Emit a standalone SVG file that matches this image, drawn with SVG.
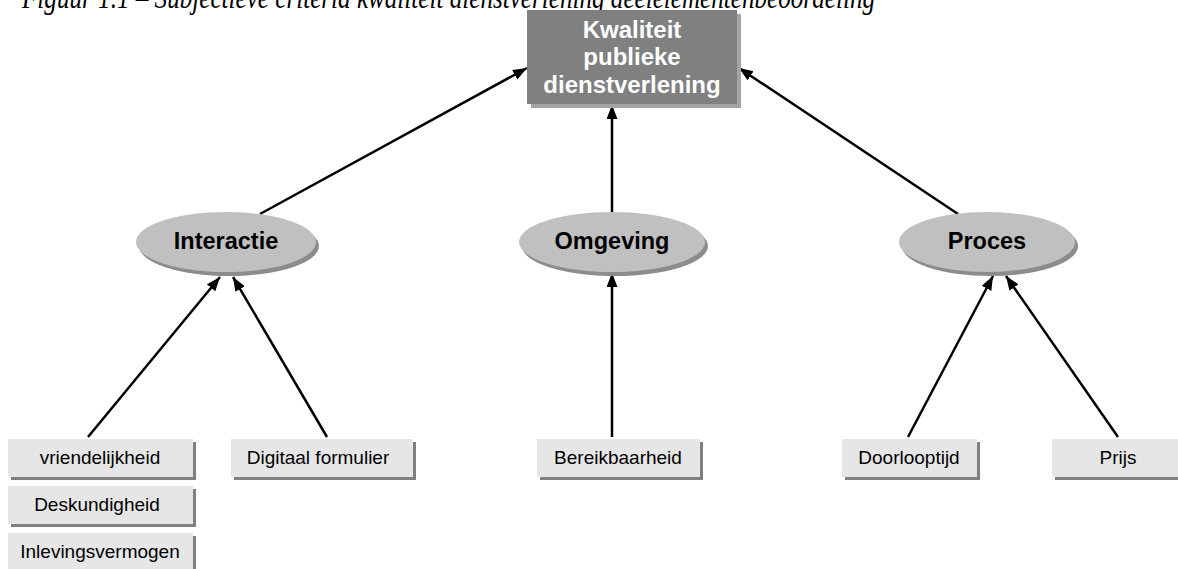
<svg xmlns="http://www.w3.org/2000/svg" width="1178" height="569" viewBox="0 0 1178 569">
  <style>
    .title { font-family: "Liberation Serif", "DejaVu Serif", serif; font-style: italic; font-size: 32px; fill: #000; }
    .toptext { font-family: "Liberation Sans", Arial, sans-serif; font-weight: bold; font-size: 24px; fill: #fff; text-anchor: middle; }
    .elltext { font-family: "Liberation Sans", Arial, sans-serif; font-weight: bold; font-size: 23.5px; fill: #000; text-anchor: middle; }
    .boxtext { font-family: "Liberation Sans", Arial, sans-serif; font-size: 19px; fill: #000; text-anchor: middle; }
    .box { fill: #e6e6e6; }
    .boxshadow { fill: #808080; }
    .ell { fill: #c0c0c0; }
    .ellshadow { fill: #8c8c8c; }
    .conn { stroke: #000; stroke-width: 2.5; fill: none; marker-end: url(#arrow); }
  </style>
  <defs>
    <marker id="arrow" markerUnits="userSpaceOnUse" markerWidth="15" markerHeight="12" refX="14" refY="5.5" orient="auto">
      <path d="M0,0 L14,5.5 L0,11 z" fill="#000"/>
    </marker>
  </defs>
  <rect width="1178" height="569" fill="#fff"/>

  <text class="title" x="22" y="8" textLength="853" lengthAdjust="spacingAndGlyphs">Figuur 1.1 – Subjectieve criteria kwaliteit dienstverlening deelelementenbeoordeling</text>

  <g id="connectors">
    <line class="conn" x1="260" y1="214" x2="527" y2="68"/>
    <line class="conn" x1="612" y1="212" x2="612" y2="105"/>
    <line class="conn" x1="958" y1="214" x2="739" y2="68"/>
    <line class="conn" x1="88" y1="437" x2="220" y2="277"/>
    <line class="conn" x1="327" y1="437" x2="233" y2="277"/>
    <line class="conn" x1="612" y1="437" x2="612" y2="273"/>
    <line class="conn" x1="908" y1="437" x2="993" y2="276"/>
    <line class="conn" x1="1118" y1="437" x2="1006" y2="276"/>
  </g>

  <g id="kwaliteit">
    <rect x="531" y="14" width="210" height="94" fill="#a4a4a4"/>
    <rect x="527" y="10" width="210" height="94" fill="#808080"/>
    <text class="toptext" x="632" y="38">Kwaliteit</text>
    <text class="toptext" x="632" y="65">publieke</text>
    <text class="toptext" x="632" y="93">dienstverlening</text>
  </g>

  <g id="interactie">
    <ellipse class="ellshadow" cx="229" cy="246" rx="90" ry="30"/>
    <ellipse class="ell" cx="226" cy="242" rx="90" ry="30"/>
    <text class="elltext" x="226" y="249">Interactie</text>
  </g>
  <g id="omgeving">
    <ellipse class="ellshadow" cx="615" cy="246" rx="93" ry="30"/>
    <ellipse class="ell" cx="612" cy="242" rx="93" ry="30"/>
    <text class="elltext" x="612" y="249">Omgeving</text>
  </g>
  <g id="proces">
    <ellipse class="ellshadow" cx="990" cy="246" rx="88" ry="30"/>
    <ellipse class="ell" cx="987" cy="242" rx="88" ry="30"/>
    <text class="elltext" x="987" y="249">Proces</text>
  </g>

  <g id="vriendelijkheid">
    <rect class="boxshadow" x="11" y="442" width="185" height="38"/>
    <rect class="box" x="8" y="439" width="185" height="38"/>
    <text class="boxtext" x="100" y="464">vriendelijkheid</text>
  </g>
  <g id="deskundigheid">
    <rect class="boxshadow" x="11" y="489" width="185" height="38"/>
    <rect class="box" x="8" y="486" width="185" height="38"/>
    <text class="boxtext" x="97" y="511">Deskundigheid</text>
  </g>
  <g id="inlevingsvermogen">
    <rect class="boxshadow" x="11" y="536" width="185" height="38"/>
    <rect class="box" x="8" y="533" width="185" height="38"/>
    <text class="boxtext" x="100" y="558">Inlevingsvermogen</text>
  </g>
  <g id="digitaal">
    <rect class="boxshadow" x="234" y="442" width="182" height="38"/>
    <rect class="box" x="231" y="439" width="182" height="38"/>
    <text class="boxtext" x="318" y="464">Digitaal formulier</text>
  </g>
  <g id="bereikbaarheid">
    <rect class="boxshadow" x="540" y="442" width="163" height="38"/>
    <rect class="box" x="537" y="439" width="163" height="38"/>
    <text class="boxtext" x="618" y="464">Bereikbaarheid</text>
  </g>
  <g id="doorlooptijd">
    <rect class="boxshadow" x="845" y="442" width="135" height="38"/>
    <rect class="box" x="842" y="439" width="135" height="38"/>
    <text class="boxtext" x="909" y="464">Doorlooptijd</text>
  </g>
  <g id="prijs">
    <rect class="boxshadow" x="1055" y="442" width="132" height="38"/>
    <rect class="box" x="1052" y="439" width="132" height="38"/>
    <text class="boxtext" x="1118" y="464">Prijs</text>
  </g>
</svg>
